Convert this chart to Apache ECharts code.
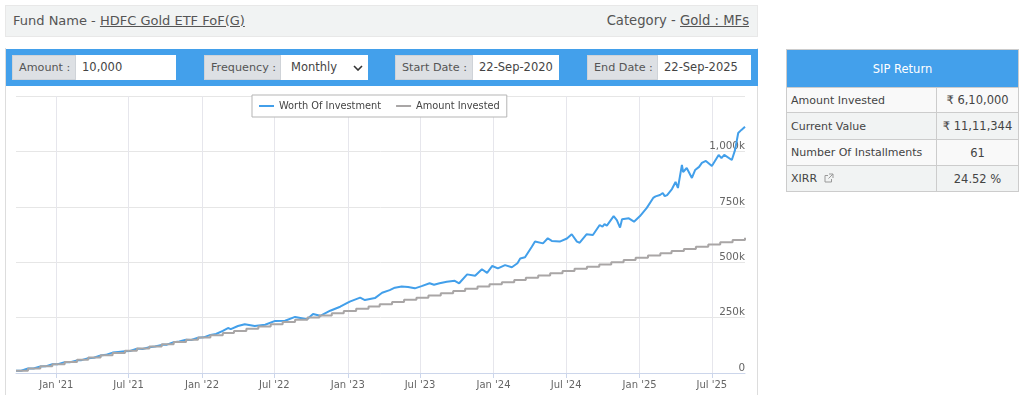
<!DOCTYPE html>
<html>
<head>
<meta charset="utf-8">
<title>SIP Return</title>
<script src="https://cdn.jsdelivr.net/npm/echarts@6/dist/echarts.min.js"></script>
<style>
  html, body { margin: 0; padding: 0; background: #fff; overflow: hidden; }
  body { width: 1024px; height: 395px; position: relative; font-family: "DejaVu Sans", sans-serif; font-size: 12px; color: #555; }
  .box { position: absolute; box-sizing: border-box; }
  #head { left: 5px; top: 5px; width: 753px; height: 32px; background: #f1f3f3; border: 1px solid #e8e8e8; font-size: 13px; line-height: 30px; padding: 0 7px; }
  #head u { color: #555; }
  #head .r { position: absolute; right: 8px; top: 0; font-size: 13.2px; }
  #panel { left: 5px; top: 48px; width: 753px; height: 360px; border: 1px solid #ddd; border-top: 0; }
  #bar { left: 6px; top: 49px; width: 752px; height: 37px; background: #43a0eb; }
  .lab, .inp { position: absolute; box-sizing: border-box; top: 55px; height: 25px; line-height: 24px; font-size: 11.2px; }
  .lab { background: #dde0e4; padding-left: 6px; border: 1px solid #cfd3d8; }
  .inp { background: #fff; padding-left: 6px; color: #444; font-size: 11.5px; }
  #chart { left: 7px; top: 87px; width: 750px; height: 308px; }
  table { position: absolute; left: 786px; top: 49px; width: 232px; border-collapse: collapse; font-size: 11px; table-layout: fixed; }
  td { border: 1px solid #ccc; padding: 0 4px; color: #444; box-sizing: border-box; }
  th { background: #43a0eb; color: #fff; font-weight: normal; height: 38px; border: 1px solid #ccc; font-size: 11.5px; box-sizing: border-box; }
  tr.a td { background: #f9f9f9; }
  tr.b td { background: #f1f3f3; }
  td.v { text-align: center; font-size: 11.5px; }
</style>
</head>
<body>
<div class="box" id="head">Fund Name - <u>HDFC Gold ETF FoF(G)</u><span class="r">Category - <u>Gold : MFs</u></span></div>
<div class="box" id="panel"></div>
<div class="box" id="bar"></div>
<div class="lab" style="left:12px;width:64px">Amount :</div>
<div class="inp" style="left:76px;width:100px">10,000</div>
<div class="lab" style="left:204px;width:77px">Frequency :</div>
<div class="inp" style="left:281px;width:87px;padding-left:10px">Monthly<svg width="10" height="6" style="position:absolute;left:72px;top:10px"><path d="M1 1 L5 5 L9 1" fill="none" stroke="#333" stroke-width="1.6"/></svg></div>
<div class="lab" style="left:395px;width:78px">Start Date :</div>
<div class="inp" style="left:473px;width:86px">22-Sep-2020</div>
<div class="lab" style="left:587px;width:71px">End Date :</div>
<div class="inp" style="left:658px;width:93px">22-Sep-2025</div>
<div class="box" id="chart"></div>
<table>
  <colgroup><col style="width:150px"><col style="width:82px"></colgroup>
  <tr><th colspan="2">SIP Return</th></tr>
  <tr class="a" style="height:25px"><td>Amount Invested</td><td class="v">₹ 6,10,000</td></tr>
  <tr class="b" style="height:27px"><td>Current Value</td><td class="v">₹ 11,11,344</td></tr>
  <tr class="a" style="height:26px"><td>Number Of Installments</td><td class="v">61</td></tr>
  <tr class="b" style="height:26px"><td>XIRR &nbsp;<svg width="10" height="10" viewBox="0 0 10 10" style="vertical-align:-1px"><path d="M7.5 6v3H1V2.5h3M5 1h4v4M9 1 4.5 5.5" fill="none" stroke="#999" stroke-width="1"/></svg></td><td class="v">24.52 %</td></tr>
</table>
<script>
var AXIS_START = '2020-09-22';
var AXIS_END = '2025-09-22';

var tickDates = ['2021-01-01', '2021-07-01', '2022-01-01', '2022-07-01', '2023-01-01', '2023-07-01', '2024-01-01', '2024-07-01', '2025-01-01', '2025-07-01'];

var worthDates = [
  '2020-09-22', '2020-10-05', '2020-10-22', '2020-11-05', '2020-11-22', '2020-12-05', '2020-12-22',
  '2021-01-05', '2021-01-22', '2021-02-05', '2021-02-22', '2021-03-05', '2021-03-22', '2021-04-05', '2021-04-22',
  '2021-05-05', '2021-05-22', '2021-06-05', '2021-06-22', '2021-07-05', '2021-07-22', '2021-08-05', '2021-08-22',
  '2021-09-05', '2021-09-22', '2021-10-05', '2021-10-22', '2021-11-05', '2021-11-22', '2021-12-05', '2021-12-22',
  '2022-01-05', '2022-01-22', '2022-02-05', '2022-02-22', '2022-03-07', '2022-03-14', '2022-04-01', '2022-04-18', '2022-05-13',
  '2022-06-08', '2022-07-03', '2022-07-28', '2022-08-22', '2022-09-21', '2022-10-06', '2022-10-24', '2022-11-18',
  '2022-12-13', '2023-01-06', '2023-02-01', '2023-02-13', '2023-03-10', '2023-03-28', '2023-04-16', '2023-04-29',
  '2023-05-16', '2023-06-01', '2023-06-18', '2023-07-05', '2023-07-25', '2023-08-05', '2023-08-19', '2023-09-06', '2023-09-26', '2023-10-07', '2023-10-27',
  '2023-11-16', '2023-12-03', '2023-12-16', '2023-12-29', '2024-01-12', '2024-01-30', '2024-02-16', '2024-03-01',
  '2024-03-08', '2024-03-20', '2024-04-06', '2024-04-14', '2024-05-04', '2024-05-16', '2024-05-26', '2024-06-15',
  '2024-07-03', '2024-07-15', '2024-07-28', '2024-08-04', '2024-08-21', '2024-09-06', '2024-09-23', '2024-09-30', '2024-10-05', '2024-10-11', '2024-10-28',
  '2024-11-05', '2024-11-13', '2024-11-18', '2024-12-05', '2024-12-18', '2025-01-02', '2025-01-19', '2025-02-04', '2025-02-10',
  '2025-02-21', '2025-02-28', '2025-03-05', '2025-03-11', '2025-03-23', '2025-04-01', '2025-04-07', '2025-04-17', '2025-04-20', '2025-04-29',
  '2025-05-12', '2025-05-20', '2025-05-30', '2025-06-06', '2025-06-16', '2025-07-01', '2025-07-18', '2025-07-25', '2025-08-01', '2025-08-20',
  '2025-08-28', '2025-09-05', '2025-09-13', '2025-09-22'
];
var worthValues = [
  10000, 10000, 20000, 20000, 29500, 30000, 39500,
  40000, 49000, 49000, 57000, 58000, 67000, 69000, 79000,
  82000, 92000, 95000, 98000, 99000, 110000, 108000, 116000,
  120000, 127000, 128000, 139000, 142000, 150000, 149000, 159000,
  161000, 172000, 176000, 190000, 203000, 198000, 212000, 220000, 212000,
  218000, 235000, 236000, 253000, 243000, 266000, 258000, 281000,
  299000, 322000, 340000, 329000, 338000, 362000, 374000, 385000,
  390000, 388000, 382000, 392000, 405000, 398000, 405000, 412000, 416000, 405000, 445000,
  439000, 468000, 452000, 483000, 472000, 487000, 477000, 495000,
  517000, 522000, 570000, 593000, 585000, 608000, 596000, 593000,
  607000, 626000, 593000, 588000, 626000, 623000, 668000, 660000, 672000, 665000, 708000,
  690000, 656000, 694000, 698000, 683000, 708000, 745000, 790000, 797000,
  803000, 812000, 798000, 803000, 830000, 862000, 835000, 939000, 907000, 925000,
  880000, 916000, 930000, 948000, 957000, 934000, 984000, 970000, 984000, 961000,
  1006000, 1083000, 1097000, 1111344
];

var investedDates = [
  '2020-09-22', '2020-10-22', '2020-11-22', '2020-12-22', '2021-01-22', '2021-02-22', '2021-03-22', '2021-04-22',
  '2021-05-22', '2021-06-22', '2021-07-22', '2021-08-22', '2021-09-22', '2021-10-22', '2021-11-22', '2021-12-22',
  '2022-01-22', '2022-02-22', '2022-03-22', '2022-04-22', '2022-05-22', '2022-06-22', '2022-07-22', '2022-08-22',
  '2022-09-22', '2022-10-22', '2022-11-22', '2022-12-22', '2023-01-22', '2023-02-22', '2023-03-22', '2023-04-22',
  '2023-05-22', '2023-06-22', '2023-07-22', '2023-08-22', '2023-09-22', '2023-10-22', '2023-11-22', '2023-12-22',
  '2024-01-22', '2024-02-22', '2024-03-22', '2024-04-22', '2024-05-22', '2024-06-22', '2024-07-22', '2024-08-22',
  '2024-09-22', '2024-10-22', '2024-11-22', '2024-12-22', '2025-01-22', '2025-02-22', '2025-03-22', '2025-04-22',
  '2025-05-22', '2025-06-22', '2025-07-22', '2025-08-22', '2025-09-22'
];
var investedValues = [
  10000, 20000, 30000, 40000, 50000, 60000, 70000, 80000,
  90000, 100000, 110000, 120000, 130000, 140000, 150000, 160000,
  170000, 180000, 190000, 200000, 210000, 220000, 230000, 240000,
  250000, 260000, 270000, 280000, 290000, 300000, 310000, 320000,
  330000, 340000, 350000, 360000, 370000, 380000, 390000, 400000,
  410000, 420000, 430000, 440000, 450000, 460000, 470000, 480000,
  490000, 500000, 510000, 520000, 530000, 540000, 550000, 560000,
  570000, 580000, 590000, 600000, 610000
];

var MONTHS = ['Jan', 'Feb', 'Mar', 'Apr', 'May', 'Jun', 'Jul', 'Aug', 'Sep', 'Oct', 'Nov', 'Dec'];

function ts(d) {
  return +new Date(d + 'T00:00:00Z');
}

function zip(dates, values) {
  return dates.map(function (d, i) { return [ts(d), values[i]]; });
}

var chart = echarts.init(document.getElementById('chart'));
var ticks = tickDates.map(ts);

// value axis on timestamps: the time axis rejects customValues
chart.setOption({
  animation: false,
  textStyle: { fontFamily: '"DejaVu Sans", sans-serif' },
  grid: { left: 9, right: 12, top: 9, bottom: 22 },
  legend: {
    left: 245, top: 8,
    itemWidth: 15, itemHeight: 2, itemGap: 15,
    padding: [6, 7, 6, 7],
    backgroundColor: '#fff', borderColor: '#b5b5b5', borderWidth: 1,
    textStyle: { fontSize: 9.8, color: '#444' },
    icon: 'rect',
    data: ['Worth Of Investment', 'Amount Invested']
  },
  xAxis: {
    type: 'value',
    min: ts(AXIS_START),
    max: ts(AXIS_END),
    axisLine: { onZero: false, lineStyle: { color: '#ccd6eb', width: 1 } },
    axisTick: { show: true, length: 5, lineStyle: { color: '#ccd6eb' }, customValues: ticks },
    splitLine: { show: true, lineStyle: { color: '#e6e6ec', width: 1 } },
    axisLabel: {
      fontSize: 10, color: '#666', margin: 7,
      customValues: ticks,
      formatter: function (v) {
        var d = new Date(v);
        return MONTHS[d.getUTCMonth()] + " '" + String(d.getUTCFullYear()).slice(2);
      }
    }
  },
  yAxis: {
    type: 'value',
    position: 'right',
    min: 0, max: 1250000, interval: 250000,
    axisLine: { show: false },
    axisTick: { show: false },
    splitLine: { lineStyle: { color: '#e6e6e6', width: 1 } },
    axisLabel: {
      inside: true, margin: 0,
      fontSize: 10.4, color: '#666',
      verticalAlign: 'bottom',
      showMaxLabel: false,
      formatter: function (v) {
        return v === 0 ? '0' : (v / 1000).toLocaleString('en-US') + 'k';
      }
    }
  },
  series: [
    {
      name: 'Worth Of Investment', type: 'line', showSymbol: false,
      data: zip(worthDates, worthValues),
      lineStyle: { color: '#429fea', width: 2 }, itemStyle: { color: '#429fea' }
    },
    {
      name: 'Amount Invested', type: 'line', showSymbol: false, step: 'end',
      data: zip(investedDates, investedValues),
      lineStyle: { color: '#a9a6a6', width: 2 }, itemStyle: { color: '#a9a6a6' }
    }
  ]
});
</script>
</body>
</html>
